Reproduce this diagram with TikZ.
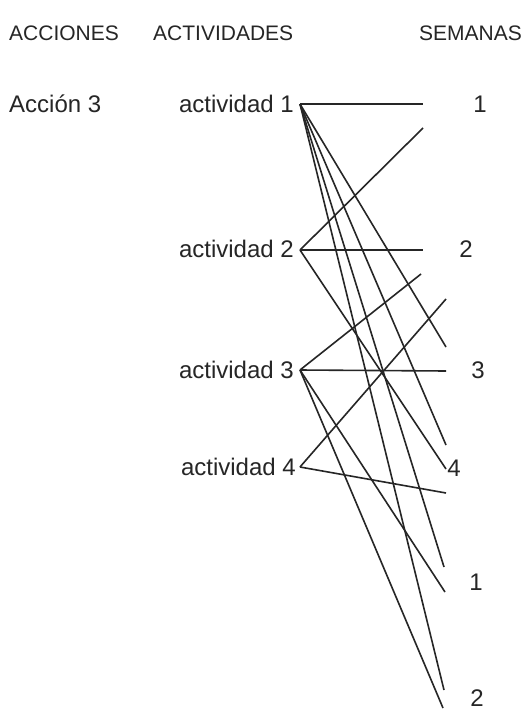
\documentclass[tikz,border=0pt]{standalone}
\usepackage{fontspec}
\setmainfont{Liberation Sans}
\begin{document}
\begin{tikzpicture}[x=1pt,y=-1pt,
  lbl/.style={inner sep=0pt, font=\fontsize{24}{28}\selectfont, text=black!85},
  head/.style={inner sep=0pt, font=\fontsize{21}{25}\selectfont, text=black!85},
  link/.style={line width=1.6pt, draw=black!85}]
\useasboundingbox[fill=white] (0,0) rectangle (526,712);
% headers
\node[head,anchor=west] (hacc) at (9,33) {ACCIONES};
\node[head,anchor=west] (hact) at (153,33) {ACTIVIDADES};
\node[head,anchor=east] (hsem) at (522,33) {SEMANAS};
% left labels
\node[lbl,anchor=west] (acc) at (9,104) {Acción 3};
\node[lbl,anchor=east] (a1) at (294,104) {actividad 1};
\node[lbl,anchor=east] (a2) at (294,249) {actividad 2};
\node[lbl,anchor=east] (a3) at (294,370) {actividad 3};
\node[lbl,anchor=east] (a4) at (296,467) {actividad 4};
% week labels
\node[lbl] (w1) at (480,104) {1};
\node[lbl] (w2) at (466,249) {2};
\node[lbl] (w3) at (478,370) {3};
\node[lbl] (w4) at (454,468) {4};
\node[lbl] (w5) at (476,582) {1};
\node[lbl] (w6) at (477,698) {2};
% connector points
\coordinate (s1) at (300,104);
\coordinate (s2) at (300,250);
\coordinate (s3) at (300,370);
\coordinate (s4) at (300,467);
\coordinate (e1) at (423,104);
\coordinate (e2) at (423,128);
\coordinate (e3) at (423,250);
\coordinate (e4) at (421,274);
\coordinate (e5) at (446,299);
\coordinate (e6) at (446,347);
\coordinate (e7) at (446,371);
\coordinate (e8) at (446,445);
\coordinate (e9) at (446,469);
\coordinate (e10) at (446,493);
\coordinate (e11) at (444,567);
\coordinate (e12) at (445,592);
\coordinate (e13) at (444,690);
\coordinate (e14) at (443,708);
% connectors
\foreach \e in {e1,e6,e8,e11,e13} \draw[link] (s1) -- (\e);
\foreach \e in {e2,e3,e9} \draw[link] (s2) -- (\e);
\foreach \e in {e4,e7,e12,e14} \draw[link] (s3) -- (\e);
\foreach \e in {e5,e10} \draw[link] (s4) -- (\e);
\end{tikzpicture}
\end{document}
